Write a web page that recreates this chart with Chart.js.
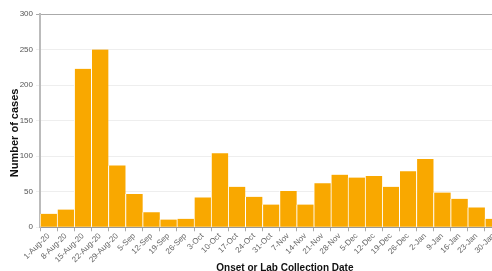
<!DOCTYPE html>
<html>
<head>
<meta charset="utf-8">
<script src="https://cdn.jsdelivr.net/npm/chart.js@4/dist/chart.umd.min.js"></script>
<style>
  html, body { margin: 0; padding: 0; background: #fff; overflow: hidden; }
  #wrap { width: 502px; height: 271px; }
</style>
</head>
<body>
<div id="wrap"><canvas id="my-chart" width="502" height="271"></canvas></div>
<script>
const weekLabels = ['1-Aug-20', '8-Aug-20', '15-Aug-20', '22-Aug-20', '29-Aug-20', '5-Sep', '12-Sep',
  '19-Sep', '26-Sep', '3-Oct', '10-Oct', '17-Oct', '24-Oct', '31-Oct', '7-Nov', '14-Nov', '21-Nov',
  '28-Nov', '5-Dec', '12-Dec', '19-Dec', '26-Dec', '2-Jan', '9-Jan', '16-Jan', '23-Jan', '30-Jan'];
const caseCounts = [19, 25, 223, 250, 87, 47, 21, 11, 12, 42, 104, 57, 43, 32, 51, 32, 62,
  74, 70, 72, 57, 79, 96, 49, 40, 28, 12];
const yTicks = [0, 50, 100, 150, 200, 250, 300];

const barColor = 'rgb(249, 168, 0)';

// padding spaces nudge the axis titles off-centre, like the original
const xTitle = '          Onset or Lab Collection Date';
const yTitle = 'Number of cases        ';

const ctx = document.getElementById('my-chart').getContext('2d');
const chart = new Chart(ctx, {
  type: 'bar',
  data: {
    labels: weekLabels,
    datasets: [
      {
        label: 'Cases',
        backgroundColor: barColor,
        borderColor: '#ffffff',
        borderWidth: { left: 1, right: 0, top: 0, bottom: 0 },
        borderSkipped: false,
        barPercentage: 1,
        categoryPercentage: 1,
        data: caseCounts
      }
    ]
  },
  options: {
    responsive: false,
    animation: false,
    layout: { padding: { left: 0, right: 0, top: 14, bottom: -3 } },
    plugins: {
      legend: { display: false },
      tooltip: { enabled: false }
    },
    scales: {
      x: {
        offset: true,
        grid: {
          offset: true,
          drawOnChartArea: false,
          tickLength: 4,
          color: '#aaaaaa'
        },
        border: { color: '#999999', width: 1 },
        ticks: {
          autoSkip: false,
          maxRotation: 45,
          minRotation: 45,
          padding: 0,
          color: '#666666',
          font: { family: 'Liberation Sans', size: 8 }
        },
        title: {
          display: true,
          text: xTitle,
          color: '#111111',
          padding: { top: -2.5, bottom: 0 },
          font: { family: 'Liberation Sans', size: 10, weight: 'bold' }
        }
      },
      y: {
        min: 0,
        max: 300,
        afterBuildTicks: scale => {
          scale.ticks = yTicks.map(v => ({ value: v }));
        },
        afterFit: scale => { scale.width = 40; },
        grid: {
          tickLength: 4,
          color: ctx => ctx.tick && ctx.tick.value === 300 ? '#aaaaaa' : '#eeeeee',
          lineWidth: 1
        },
        border: { color: '#bbbbbb', width: 2 },
        ticks: {
          padding: 3,
          color: '#555555',
          font: { family: 'Liberation Sans', size: 8 }
        },
        title: {
          display: true,
          text: yTitle,
          color: '#111111',
          padding: { top: 8.5, bottom: 0 },
          font: { family: 'Liberation Sans', size: 11, weight: 'bold' }
        }
      }
    }
  }
});
</script>
</body>
</html>
